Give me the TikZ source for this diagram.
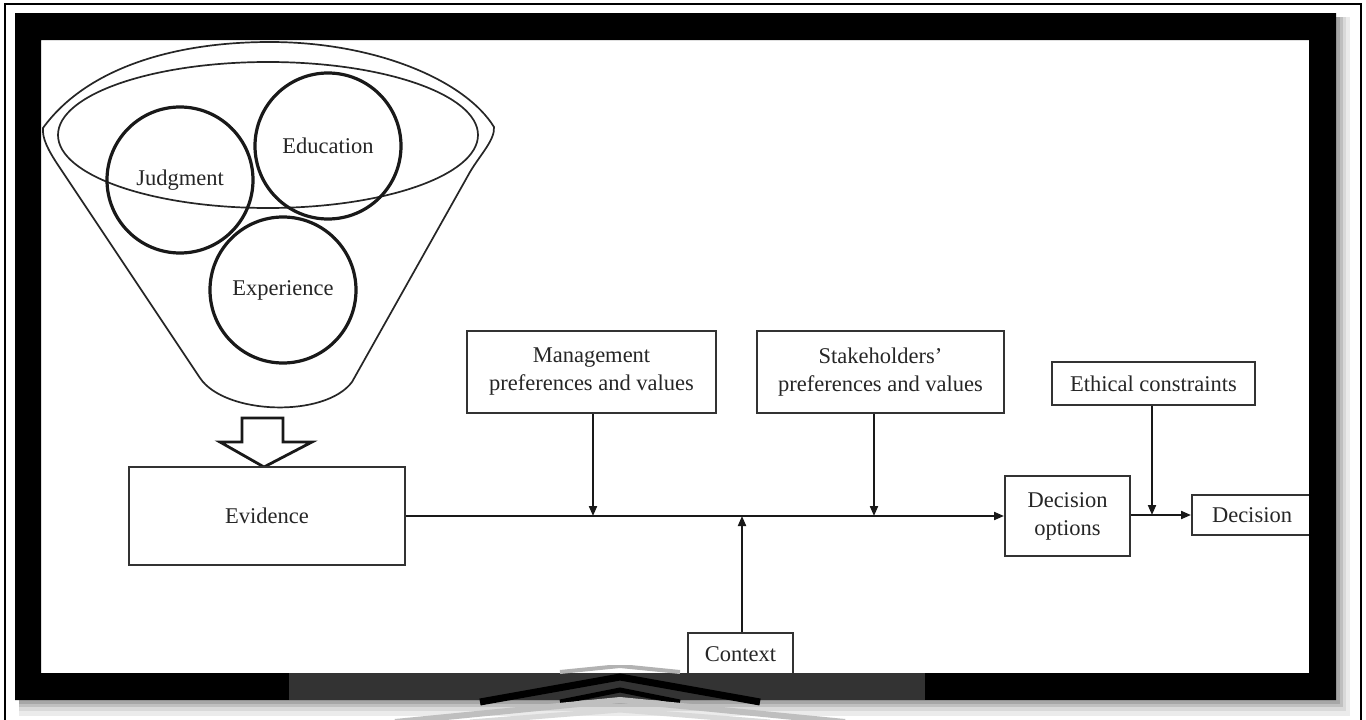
\documentclass[tikz,border=0pt]{standalone}
\usepackage{fontspec}
\setmainfont{Liberation Serif}
\usetikzlibrary{arrows.meta}
\begin{document}
\begin{tikzpicture}[x=1pt,y=-1pt,
  lbl/.style={text=black!85, font=\fontsize{22.5}{28}\selectfont, align=center, inner sep=0pt},
  box/.style={lbl, draw=black!80, line width=2pt, fill=white, rectangle},
  ring/.style={lbl, circle, draw=black!90, line width=3.2pt},
  conn/.style={draw=black!90, line width=2pt, -{Triangle[length=10pt,width=8pt]}},
  funnelline/.style={draw=black!85, line width=1.7pt},
]
\useasboundingbox (0,0) rectangle (1366,720);
\clip (0,0) rectangle (1366,720);
\fill[white] (0,0) rectangle (1366,720);
% thin outer border
\draw[line width=2pt] (5,4) rectangle (1361,740);
% shadow of frame
\fill[black!8] (19,17) rectangle (1350,716);
\fill[black!15] (19,17) rectangle (1346,711);
\fill[black!25] (19,17) rectangle (1343,707);
\fill[black!35] (19,17) rectangle (1340,704);
% inner white area
\fill[white] (41,40) rectangle (1309,673);

% funnel
\draw[funnelline] (43,128) .. controls (85,70) and (170,42) .. (270,42)
  .. controls (375,42) and (465,80) .. (494,127)
  .. controls (495,140) and (480,155) .. (470,172) -- (352,382)
  .. controls (325,418) and (225,415) .. (200,378) -- (58,165)
  .. controls (48,150) and (42,138) .. (43,128) -- cycle;
\draw[funnelline] (268,135) ellipse [x radius=210pt, y radius=73pt];

% circles
\node[ring, minimum size=146pt] (jud) at (180,180) {Judgment};
\node[ring, minimum size=146pt] (edu) at (328,146) {Education};
\node[ring, minimum size=146pt] (exp) at (283,290) {Experience};

% hollow arrow
\draw[line width=2.8pt, draw=black!90, fill=white, line join=miter]
  (242,418) -- (283,418) -- (283,442) -- (312,442) -- (264,467) -- (220,442) -- (242,442) -- cycle;

% boxes
\node[box, minimum width=276pt, minimum height=98pt] (ev) at (267,516) {Evidence};
\node[box, minimum width=249pt, minimum height=82pt] (mg) at (591.5,372) {Management\\preferences and values};
\node[box, minimum width=247pt, minimum height=82pt] (sh) at (880.5,372) {Stakeholders’\\preferences and values};
\node[box, minimum width=203pt, minimum height=43pt] (eth) at (1153.5,383.5) {Ethical constraints};
\node[box, minimum width=125pt, minimum height=80pt] (dop) at (1067.5,516) {Decision\\options};
\node[box, minimum width=120pt, minimum height=40pt] (dec) at (1252,515) {Decision};
\node[box, minimum width=105pt, minimum height=42pt] (ctx) at (740.5,654) {Context};

% connectors
\draw[conn] (ev.east) -- (dop.west);
\draw[conn] ([xshift=1.5pt]mg.south) -- ([xshift=1.5pt]mg.south |- ev.east);
\draw[conn] ([xshift=-6.5pt]sh.south) -- ([xshift=-6.5pt]sh.south |- ev.east);
\draw[conn] ([xshift=1.5pt]ctx.north) -- ([xshift=1.5pt]ctx.north |- ev.east);
\draw[conn] (dop.east |- dec.west) -- (dec.west);
\draw[conn] ([xshift=-1.5pt]eth.south) -- ([xshift=-1.5pt]eth.south |- dec.west);

% frame
\fill[black, even odd rule] (15,13) rectangle (1336,700) (41,40) rectangle (1309,673);
% grey band with chevrons
\fill[black!80] (289,673) rectangle (925,700);
\begin{scope}
  \clip (289,665) rectangle (925,720);
  \draw[black!30, line width=4pt] (560,672) -- (620,666) -- (680,672);
  \draw[black, line width=7pt] (480,702) -- (620,677) -- (760,702);
  \draw[black, line width=5pt] (560,702) -- (620,690) -- (680,702);
  \draw[black!25, line width=6pt] (395,722) -- (620,700) -- (845,722);
  \draw[black!15, line width=5pt] (470,722) -- (620,710) -- (770,722);
\end{scope}
\end{tikzpicture}
\end{document}
